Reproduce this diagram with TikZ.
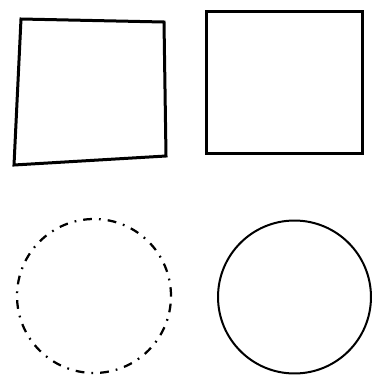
\documentclass[tikz,border=0pt]{standalone}
\usepackage{tikz}

\begin{document}
\begin{tikzpicture}[x=0.02cm,y=-0.02cm,line width=0.6mm,
    thinring/.style={line width=0.4mm},
    brokenring/.style={line width=0.45mm,dash pattern=on 5pt off 4pt on 1pt off 4pt}]
    \useasboundingbox (0,0) rectangle (374,376);

    % skewed square
    \draw (21,19) -- (164,22) -- (166,156) -- (14,165) -- cycle;
    % square
    \draw (206,11) rectangle (362,153);

    % broken circle
    \draw[brokenring] (94,296) circle[radius=1.54cm];
    % circle
    \draw[thinring] (294.5,297) circle[radius=1.53cm];
\end{tikzpicture}
\end{document}
